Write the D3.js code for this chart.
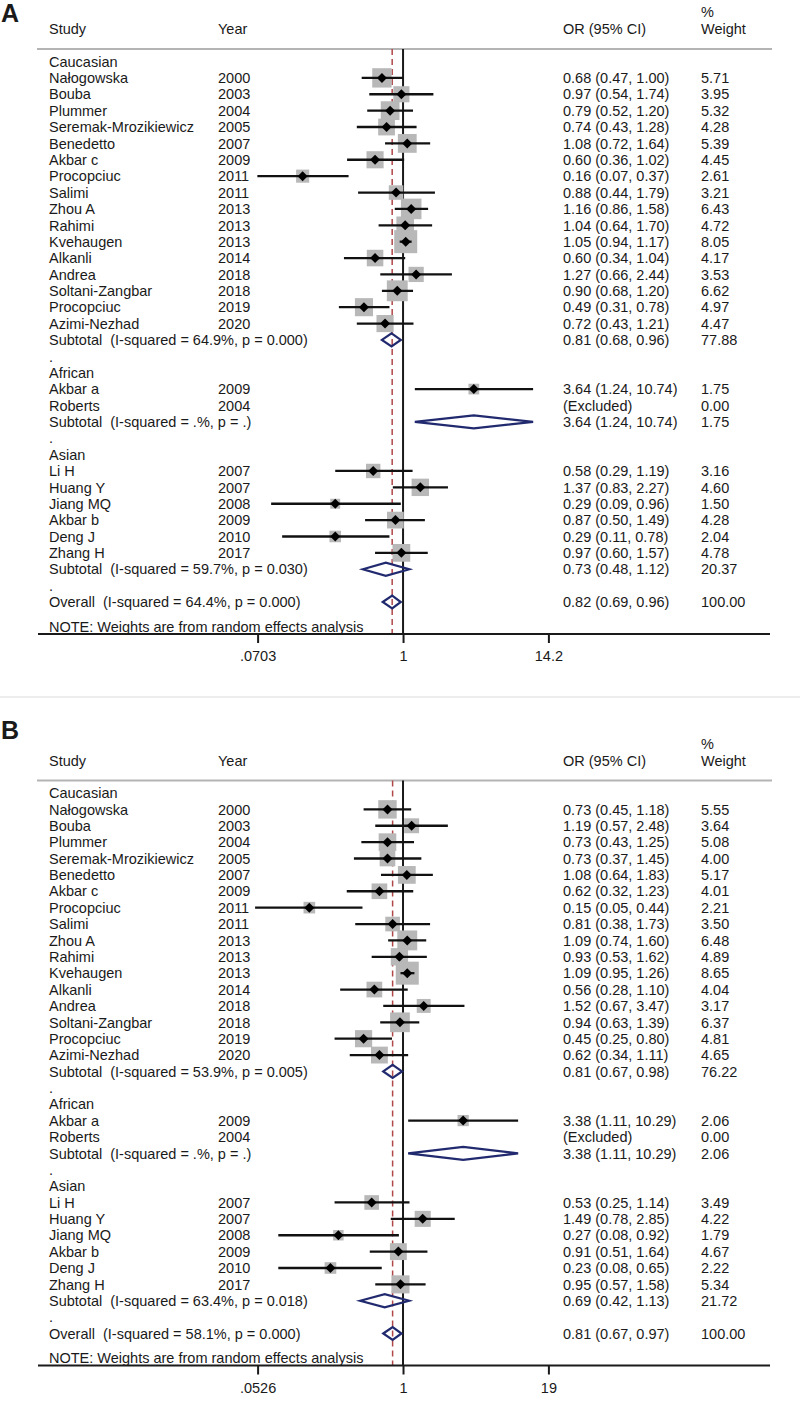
<!DOCTYPE html>
<html>
<head>
<meta charset="utf-8">
<script src="https://cdn.jsdelivr.net/npm/d3@7"></script>
<style>
  body { margin: 0; background: #fff; }
  text { font-family: "Liberation Sans", Arial, sans-serif; fill: #1a1a1a; white-space: pre; }
</style>
</head>
<body>
<script>
// Données communes aux deux panneaux.
const groupes = ["Caucasian", "African", "Asian"];
const etudes = ["Nałogowska", "Bouba", "Plummer", "Seremak-Mrozikiewicz", "Benedetto", "Akbar c",
    "Procopciuc", "Salimi", "Zhou A", "Rahimi", "Kvehaugen", "Alkanli", "Andrea", "Soltani-Zangbar",
    "Procopciuc", "Azimi-Nezhad", "Akbar a", "Roberts", "Li H", "Huang Y", "Jiang MQ", "Akbar b",
    "Deng J", "Zhang H"];
const annees = [2000, 2003, 2004, 2005, 2007, 2009, 2011, 2011, 2013, 2013, 2013, 2014, 2018, 2018,
    2019, 2020, 2009, 2004, 2007, 2007, 2008, 2009, 2010, 2017];
const groupeEtude = ["Caucasian", "Caucasian", "Caucasian", "Caucasian", "Caucasian", "Caucasian",
    "Caucasian", "Caucasian", "Caucasian", "Caucasian", "Caucasian", "Caucasian", "Caucasian",
    "Caucasian", "Caucasian", "Caucasian", "African", "African", "Asian", "Asian", "Asian", "Asian",
    "Asian", "Asian"];

// Panneau A
const orA = [0.68, 0.97, 0.79, 0.74, 1.08, 0.60, 0.16, 0.88, 1.16, 1.04, 1.05, 0.60, 1.27, 0.90,
    0.49, 0.72, 3.64, null, 0.58, 1.37, 0.29, 0.87, 0.29, 0.97];
const basA = [0.47, 0.54, 0.52, 0.43, 0.72, 0.36, 0.07, 0.44, 0.86, 0.64, 0.94, 0.34, 0.66, 0.68,
    0.31, 0.43, 1.24, null, 0.29, 0.83, 0.09, 0.50, 0.11, 0.60];
const hautA = [1.00, 1.74, 1.20, 1.28, 1.64, 1.02, 0.37, 1.79, 1.58, 1.70, 1.17, 1.04, 2.44, 1.20,
    0.78, 1.21, 10.74, null, 1.19, 2.27, 0.96, 1.49, 0.78, 1.57];
const poidsA = [5.71, 3.95, 5.32, 4.28, 5.39, 4.45, 2.61, 3.21, 6.43, 4.72, 8.05, 4.17, 3.53, 6.62,
    4.97, 4.47, 1.75, 0.00, 3.16, 4.60, 1.50, 4.28, 2.04, 4.78];
const sousOrA = [0.81, 3.64, 0.73];
const sousBasA = [0.68, 1.24, 0.48];
const sousHautA = [0.96, 10.74, 1.12];
const sousPoidsA = [77.88, 1.75, 20.37];
const sousI2A = ["64.9%", ".%", "59.7%"];
const sousPA = ["0.000", ".", "0.030"];
const globalA = [0.82, 0.69, 0.96];
const globalI2A = "64.4%", globalPA = "0.000";
const ticksA = [0.0703, 1, 14.2];
const tickLabelsA = [".0703", "1", "14.2"];

// Panneau B
const orB = [0.73, 1.19, 0.73, 0.73, 1.08, 0.62, 0.15, 0.81, 1.09, 0.93, 1.09, 0.56, 1.52, 0.94,
    0.45, 0.62, 3.38, null, 0.53, 1.49, 0.27, 0.91, 0.23, 0.95];
const basB = [0.45, 0.57, 0.43, 0.37, 0.64, 0.32, 0.05, 0.38, 0.74, 0.53, 0.95, 0.28, 0.67, 0.63,
    0.25, 0.34, 1.11, null, 0.25, 0.78, 0.08, 0.51, 0.08, 0.57];
const hautB = [1.18, 2.48, 1.25, 1.45, 1.83, 1.23, 0.44, 1.73, 1.60, 1.62, 1.26, 1.10, 3.47, 1.39,
    0.80, 1.11, 10.29, null, 1.14, 2.85, 0.92, 1.64, 0.65, 1.58];
const poidsB = [5.55, 3.64, 5.08, 4.00, 5.17, 4.01, 2.21, 3.50, 6.48, 4.89, 8.65, 4.04, 3.17, 6.37,
    4.81, 4.65, 2.06, 0.00, 3.49, 4.22, 1.79, 4.67, 2.22, 5.34];
const sousOrB = [0.81, 3.38, 0.69];
const sousBasB = [0.67, 1.11, 0.42];
const sousHautB = [0.98, 10.29, 1.13];
const sousPoidsB = [76.22, 2.06, 21.72];
const sousI2B = ["53.9%", ".%", "63.4%"];
const sousPB = ["0.005", ".", "0.018"];
const globalB = [0.81, 0.67, 0.97];
const globalI2B = "58.1%", globalPB = "0.000";
const ticksB = [0.0526, 1, 19];
const tickLabelsB = [".0526", "1", "19"];

const W = 800, H = 1410;
const fs = 14.5;
const colEtude = 49, colAnnee = 218, colOr = 563, colPoids = 701;

const svg = d3.select("body").append("svg")
    .attr("width", W)
    .attr("height", H);

// Construire la liste des lignes d'un panneau
function construireLignes(p) {
    const lignes = [];
    groupes.forEach((g, gi) => {
        lignes.push({type: "groupe", nom: g});
        etudeGroupe = etudes.map((e, i) => i).filter(i => groupeEtude[i] === g);
        etudeGroupe.forEach(i => lignes.push({
            type: "etude", nom: etudes[i], annee: annees[i],
            or: p.or[i], bas: p.bas[i], haut: p.haut[i], poids: p.poids[i]
        }));
        lignes.push({
            type: "sous", nom: `Subtotal  (I-squared = ${p.sousI2[gi]}, p = ${p.sousP[gi]})`,
            or: p.sousOr[gi], bas: p.sousBas[gi], haut: p.sousHaut[gi], poids: p.sousPoids[gi]
        });
        lignes.push({type: "point", nom: "."});
    });
    lignes.push({
        type: "global", nom: `Overall  (I-squared = ${p.globalI2}, p = ${p.globalP})`,
        or: p.global[0], bas: p.global[1], haut: p.global[2], poids: 100
    });
    return lignes;
}

function texte(g, x, y, s, opts = {}) {
    return g.append("text")
        .attr("x", x)
        .attr("y", y + 0.36 * (opts.size || fs))
        .attr("font-size", opts.size || fs)
        .attr("font-weight", opts.bold ? "bold" : null)
        .attr("text-anchor", opts.anchor || "start")
        .text(s);
}

function dessinerPanneau(p, dy, lettre, yLettre) {
    const g = svg.append("g").attr("transform", `translate(0,${dy})`);
    const lignes = construireLignes(p);

    // Échelles: log pour les OR, linéaire pour les lignes
    const x = d3.scaleLog()
        .domain([p.ticks[0], p.ticks[p.ticks.length - 1]])
        .range([257.6, 548.4]);
    const y = d3.scaleLinear()
        .domain([0, lignes.length - 1])
        .range([61.5, 602]);
    const yHaut = 49, yAxe = 634;

    texte(g, 1, yLettre, lettre, {size: 25, bold: true}).attr("y", yLettre);

    // En-tête
    texte(g, colEtude, 29, "Study");
    texte(g, colAnnee, 29, "Year");
    texte(g, colOr, 29, "OR (95% CI)");
    texte(g, colPoids, 12, "%");
    texte(g, colPoids, 29, "Weight");
    g.append("line")
        .attr("x1", 37).attr("x2", 772)
        .attr("y1", yHaut).attr("y2", yHaut)
        .attr("stroke", "#b4b4b4").attr("stroke-width", 2);

    // Ligne de non-effet et ligne de l'effet global
    g.append("line")
        .attr("x1", x(1)).attr("x2", x(1))
        .attr("y1", yHaut).attr("y2", yAxe)
        .attr("stroke", "#1a1a1a").attr("stroke-width", 2);
    g.append("line")
        .attr("x1", x(p.global[0])).attr("x2", x(p.global[0]))
        .attr("y1", yHaut).attr("y2", yAxe)
        .attr("stroke", "#b04848").attr("stroke-width", 1.5)
        .attr("stroke-dasharray", "6,4");

    const maxPoids = d3.max(p.poids);

    lignes.forEach((l, i) => {
        const yi = y(i);
        texte(g, colEtude, yi, l.nom);
        if (l.type === "etude") {
            texte(g, colAnnee, yi, String(l.annee));
            if (l.or === null) {
                texte(g, colOr, yi, "(Excluded)");
            } else {
                const c = 23 * Math.sqrt(l.poids / maxPoids);
                g.append("rect")
                    .attr("x", x(l.or) - c / 2).attr("y", yi - c / 2)
                    .attr("width", c).attr("height", c)
                    .attr("fill", "#b8b8b8");
                g.append("line")
                    .attr("x1", x(l.bas)).attr("x2", x(l.haut))
                    .attr("y1", yi).attr("y2", yi)
                    .attr("stroke", "#111").attr("stroke-width", 2.3);
                const xm = x(l.or), r = 5;
                g.append("path")
                    .attr("d", `M${xm - r},${yi} L${xm},${yi - r} L${xm + r},${yi} L${xm},${yi + r} Z`)
                    .attr("fill", "#000");
                texte(g, colOr, yi, `${l.or.toFixed(2)} (${l.bas.toFixed(2)}, ${l.haut.toFixed(2)})`);
            }
            texte(g, colPoids, yi, l.poids.toFixed(2));
        } else if (l.type === "sous" || l.type === "global") {
            const h = 6.5;
            g.append("path")
                .attr("d", `M${x(l.bas)},${yi} L${x(l.or)},${yi - h} L${x(l.haut)},${yi} L${x(l.or)},${yi + h} Z`)
                .attr("fill", "none")
                .attr("stroke", "#212a6e").attr("stroke-width", 2.2);
            texte(g, colOr, yi, `${l.or.toFixed(2)} (${l.bas.toFixed(2)}, ${l.haut.toFixed(2)})`);
            texte(g, colPoids, yi, l.poids.toFixed(2));
        }
    });

    texte(g, colEtude, y(lignes.length - 1) + 24.5, "NOTE: Weights are from random effects analysis");

    // Axe des x
    g.append("line")
        .attr("x1", 38).attr("x2", 770)
        .attr("y1", yAxe).attr("y2", yAxe)
        .attr("stroke", "#1a1a1a").attr("stroke-width", 2);
    const axe = g.append("g")
        .attr("transform", `translate(0,${yAxe})`)
        .call(d3.axisBottom(x)
            .tickValues(p.ticks)
            .tickFormat((d, i) => p.tickLabels[i])
            .tickSize(9)
            .tickSizeOuter(0));
    axe.select(".domain").remove();
    axe.selectAll(".tick line").attr("stroke", "#1a1a1a").attr("stroke-width", 2);
    axe.selectAll(".tick text")
        .attr("font-family", "Liberation Sans, Arial, sans-serif")
        .attr("font-size", fs)
        .attr("fill", "#1a1a1a")
        .attr("y", 17);
}

// Séparation entre les deux figures
svg.append("line")
    .attr("x1", 0).attr("x2", W)
    .attr("y1", 697).attr("y2", 697)
    .attr("stroke", "#ededed").attr("stroke-width", 2);

dessinerPanneau({
    or: orA, bas: basA, haut: hautA, poids: poidsA,
    sousOr: sousOrA, sousBas: sousBasA, sousHaut: sousHautA, sousPoids: sousPoidsA,
    sousI2: sousI2A, sousP: sousPA, global: globalA, globalI2: globalI2A, globalP: globalPA,
    ticks: ticksA, tickLabels: tickLabelsA
}, 0, "A", 22);

dessinerPanneau({
    or: orB, bas: basB, haut: hautB, poids: poidsB,
    sousOr: sousOrB, sousBas: sousBasB, sousHaut: sousHautB, sousPoids: sousPoidsB,
    sousI2: sousI2B, sousP: sousPB, global: globalB, globalI2: globalI2B, globalP: globalPB,
    ticks: ticksB, tickLabels: tickLabelsB
}, 731.5, "B", 7.5);
</script>
</body>
</html>
